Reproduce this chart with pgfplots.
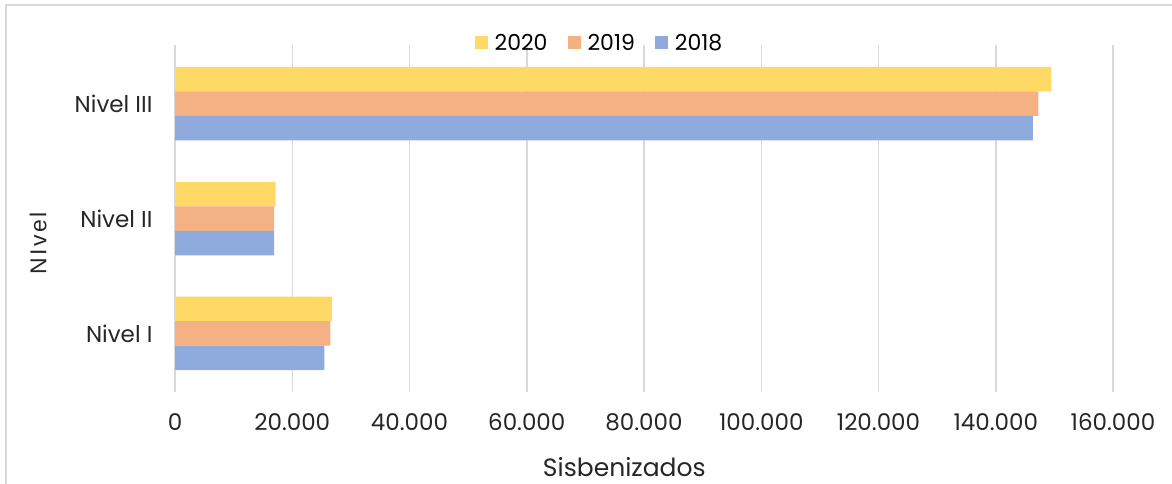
\documentclass[border=0pt]{standalone}
\usepackage{pgfplots}
\pgfplotsset{compat=1.18}
\usepackage{fontspec}
\setmainfont{Poppins}
\newfontfamily\arialf[LetterSpace=10]{Liberation Sans}
\definecolor{cy}{HTML}{FFD966}
\definecolor{co}{HTML}{F4B183}
\definecolor{cb}{HTML}{8FAADC}
\definecolor{gridc}{HTML}{D9D9D9}
\begin{document}
\begin{tikzpicture}
\useasboundingbox (0pt,0pt) rectangle (1172pt,-484pt);
\draw[gridc,line width=2pt] (6pt,-490pt) -- (6pt,-5pt) -- (1180pt,-5pt);
\begin{axis}[
  at={(175pt,-392pt)}, anchor=south west,
  scale only axis, width=938pt, height=347pt,
  xbar, bar width=24.5pt,
  xmin=0, xmax=160000, ymin=-0.51, ymax=2.51,
  scaled x ticks=false,
  axis line style={draw=none},
  major tick length=0pt,
  xtick={0,20000,40000,60000,80000,100000,120000,140000,160000},
  xticklabels={0,20.000,40.000,60.000,80.000,100.000,120.000,140.000,160.000},
  ytick={0,1,2}, yticklabels={Nivel I,Nivel II,Nivel III},
  xmajorgrids, grid style={gridc,line width=1.5pt},
  ticklabel style={font=\fontsize{23}{27}\selectfont, text=black!85},
  xticklabel shift=18pt, yticklabel shift=19pt,
  legend style={at={(axis description cs:0.4525,1.006)}, anchor=center, draw=none, fill=none,
    font=\fontsize{22}{26}\selectfont, legend columns=3,
    /tikz/every odd column/.append style={column sep=5pt},
    /tikz/every even column/.append style={column sep=18pt}},
  legend image code/.code={\fill[#1] (0pt,-6.5pt) rectangle (13pt,6.5pt);},
  clip=false,
]
\addplot[fill=cy, draw=none, bar shift=24.5pt] coordinates {(26810,0) (17150,1) (149480,2)};
\addplot[fill=co, draw=none, bar shift=0pt] coordinates {(26520,0) (16910,1) (147270,2)};
\addplot[fill=cb, draw=none, bar shift=-24.5pt] coordinates {(25490,0) (16910,1) (146350,2)};
\legend{2020,2019,2018}
\node[font=\fontsize{25}{29}\selectfont, text=black!85] at (axis description cs:0.479,-0.216) {Sisbenizados};
\node[font=\arialf\fontsize{23}{27}\selectfont, rotate=90, text=black!85] at (axis description cs:-0.146,0.428) {NIvel};
\end{axis}
\end{tikzpicture}
\end{document}
